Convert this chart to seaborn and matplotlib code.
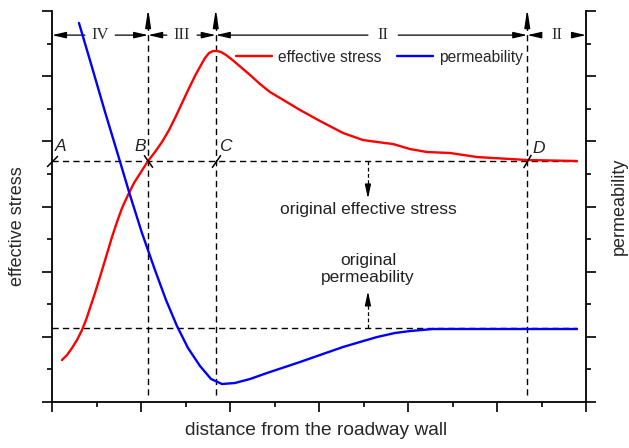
import matplotlib
matplotlib.use("Agg")
import matplotlib.pyplot as plt
import numpy as np
import pandas as pd
import seaborn as sns

# Effective stress profile along the distance from the roadway wall
stress_x = [0.112, 0.169, 0.225, 0.281, 0.337, 0.382, 0.427, 0.483, 0.539, 0.607,
            0.674, 0.730, 0.787, 0.854, 0.921, 1.000, 1.079, 1.157, 1.236, 1.315,
            1.393, 1.472, 1.551, 1.618, 1.674, 1.719, 1.764, 1.809, 1.854, 1.899,
            1.955, 2.022, 2.112, 2.225, 2.337, 2.449, 2.618, 2.787, 3.011, 3.270,
            3.494, 3.652, 3.831, 4.022, 4.213, 4.472, 4.775, 4.955, 5.146, 5.337,
            5.899]
stress_y = [0.644, 0.721, 0.829, 0.951, 1.105, 1.258, 1.442, 1.673, 1.918, 2.225,
            2.532, 2.762, 2.977, 3.176, 3.360, 3.529, 3.698, 3.836, 3.990, 4.174,
            4.389, 4.619, 4.849, 5.033, 5.171, 5.279, 5.355, 5.386, 5.386, 5.371,
            5.325, 5.255, 5.150, 5.018, 4.880, 4.757, 4.619, 4.481, 4.312, 4.128,
            4.020, 3.990, 3.959, 3.882, 3.836, 3.821, 3.759, 3.744, 3.729, 3.713,
            3.698]

# Permeability profile
perm_x = [0.303, 0.449, 0.596, 0.742, 0.876, 1.011, 1.157, 1.281, 1.404, 1.528,
          1.663, 1.787, 1.910, 2.056, 2.225, 2.416, 2.618, 2.787, 3.011, 3.270,
          3.461, 3.652, 3.854, 4.022, 4.281, 5.899]
perm_y = [5.816, 5.140, 4.450, 3.790, 3.176, 2.593, 2.025, 1.565, 1.166, 0.829,
          0.552, 0.353, 0.276, 0.292, 0.353, 0.445, 0.537, 0.614, 0.721, 0.844,
          0.921, 0.997, 1.059, 1.089, 1.120, 1.120]

original_stress = 3.70
original_perm = 1.13

# Zone boundaries (points B, C, D) and the zone names between them
point_names = ["A", "B", "C", "D"]
point_x = [0.0, 1.08, 1.84, 5.34]
zone_edges = [0.0, 1.08, 1.84, 5.34, 6.0]
zone_names = ["IV", "III", "II", "II"]

sns.set_theme(style="ticks")
plt.rcParams["font.family"] = ["Liberation Sans", "DejaVu Sans"]

fig = plt.figure(figsize=(6.29, 4.48), dpi=100)
ax = fig.add_axes([52 / 629, 1 - 402 / 448, 534 / 629, 391 / 448])
ax2 = ax.twinx()

stress_df = pd.DataFrame({"x": stress_x, "y": stress_y})
perm_df = pd.DataFrame({"x": perm_x, "y": perm_y})
sns.lineplot(data=stress_df, x="x", y="y", ax=ax, color="#ff0000", lw=1.7,
             sort=False, estimator=None, label="effective stress", legend=False)
sns.lineplot(data=perm_df, x="x", y="y", ax=ax2, color="#0000ff", lw=1.7,
             sort=False, estimator=None, label="permeability", legend=False)
for line in ax.get_lines() + ax2.get_lines():
    line.set_solid_joinstyle("round")
    line.set_solid_capstyle("round")

for a in (ax, ax2):
    a.set_xlim(0, 6)
    a.set_ylim(0, 6)
    a.set_xticks(np.arange(0, 6.01, 1))
    a.set_xticks(np.arange(0.5, 6, 1), minor=True)
    a.set_yticks(np.arange(0, 6.01, 1))
    a.set_yticks(np.arange(0.5, 6, 1), minor=True)
    a.tick_params(which="major", direction="out", length=7, width=1.2,
                  color="black", labelleft=False, labelright=False,
                  labelbottom=False)
    a.tick_params(which="minor", direction="out", length=3.5, width=1.2,
                  color="black")
    a.spines["top"].set_visible(False)
    for s in ("left", "right", "bottom"):
        a.spines[s].set_linewidth(1.3)
        a.spines[s].set_color("black")
    a.set_xlabel("")
    a.set_ylabel("")
ax2.spines["left"].set_visible(False)
ax2.spines["bottom"].set_visible(False)
ax.spines["right"].set_visible(False)
ax.tick_params(axis="y", which="both", left=True, right=False)
ax2.tick_params(axis="y", which="both", left=False, right=True)
ax2.tick_params(axis="x", which="both", bottom=False, top=False)

ax.set_xlabel("distance from the roadway wall", fontsize=13.8)
ax.xaxis.set_label_coords(0.494, -0.05)
ax.set_ylabel("effective stress", fontsize=13)
ax.yaxis.set_label_coords(-0.049, 0.45)
ax2.set_ylabel("permeability", fontsize=13)
ax2.yaxis.set_label_coords(1.047, 0.50)

dash = (0, (4.5, 3))
# Original levels
ax.plot([0, 5.9], [original_stress, original_stress], color="black", lw=1.0,
        ls=dash, zorder=1)
ax.plot([0, 5.9], [original_perm, original_perm], color="black", lw=1.0,
        ls=dash, zorder=1)

# Zone boundaries with arrow tips at the top
for xb in point_x[1:]:
    ax.plot([xb, xb], [0.1, 5.92], color="black", lw=1.0, ls=dash, zorder=1,
            clip_on=False)
    ax.annotate("", xy=(xb, 6.03), xytext=(xb, 5.82),
                arrowprops=dict(arrowstyle="-|>,head_length=0.9,head_width=0.14",
                                color="black", lw=1.0, shrinkA=0, shrinkB=0),
                annotation_clip=False)

# Zone names with arrows running out to the zone edges
zone_y = 5.63
gap = 0.17
label_shift = [0.0, 0.0, 0.13, 0.0]
for left, right, name, sh in zip(zone_edges[:-1], zone_edges[1:], zone_names,
                                 label_shift):
    mid = (left + right) / 2 + sh
    ax.text(mid, zone_y, name, ha="center", va="center", fontsize=12,
            family=["Liberation Serif", "DejaVu Serif"], color="#2a2a2a")
    for start, end in ((mid - gap, left), (mid + gap, right)):
        ax.annotate("", xy=(end, zone_y), xytext=(start, zone_y),
                    arrowprops=dict(arrowstyle="-|>,head_length=0.7,head_width=0.16",
                                    color="black", lw=0.9, shrinkA=0, shrinkB=0),
                    annotation_clip=False)

# Point labels with slash marks on the original stress level
slash_angles = [-45, 35, -35, -30]
label_offsets = [(6, 10), (-6, 10), (7, 10), (8, 9)]
for name, xp, ang, off in zip(point_names, point_x, slash_angles, label_offsets):
    ax.plot([xp], [original_stress], marker=(2, 0, ang), markersize=11,
            mec="black", mew=1.1, ls="none", clip_on=False, zorder=4)
    ax.annotate(name, xy=(xp, original_stress), xytext=off,
                textcoords="offset points", ha="center", va="center",
                fontsize=12.5, style="italic", color="#222222")

# Annotations for the original levels
ann_x = 3.55
ax.plot([ann_x, ann_x], [original_stress, 3.22], color="black", lw=0.9,
        ls=(0, (3, 2)))
ax.annotate("", xy=(ann_x, 3.12), xytext=(ann_x, 3.25),
            arrowprops=dict(arrowstyle="-|>,head_length=0.7,head_width=0.15",
                            color="black", lw=0.9, shrinkA=0, shrinkB=0))
ax.text(ann_x, 2.95, "original effective stress", ha="center", va="center",
        fontsize=12.5, color="#222222")
ax.plot([ann_x, ann_x], [original_perm, 1.6], color="black", lw=0.9,
        ls=(0, (3, 2)))
ax.annotate("", xy=(ann_x, 1.70), xytext=(ann_x, 1.57),
            arrowprops=dict(arrowstyle="-|>,head_length=0.7,head_width=0.15",
                            color="black", lw=0.9, shrinkA=0, shrinkB=0))
ax.text(ann_x, 2.04, "original\npermeability", ha="center", va="center",
        fontsize=12.5, color="#222222", linespacing=1.15)

# Legend for both curves
handles = ax.get_lines()[:1] + ax2.get_lines()[:1]
ax2.legend(handles, ["effective stress", "permeability"], loc="center",
           bbox_to_anchor=(0.614, 0.882), ncol=2, frameon=False, fontsize=11.2,
           handlelength=2.3, handletextpad=0.4, columnspacing=1.0)

fig.savefig("out.png", dpi=100)
